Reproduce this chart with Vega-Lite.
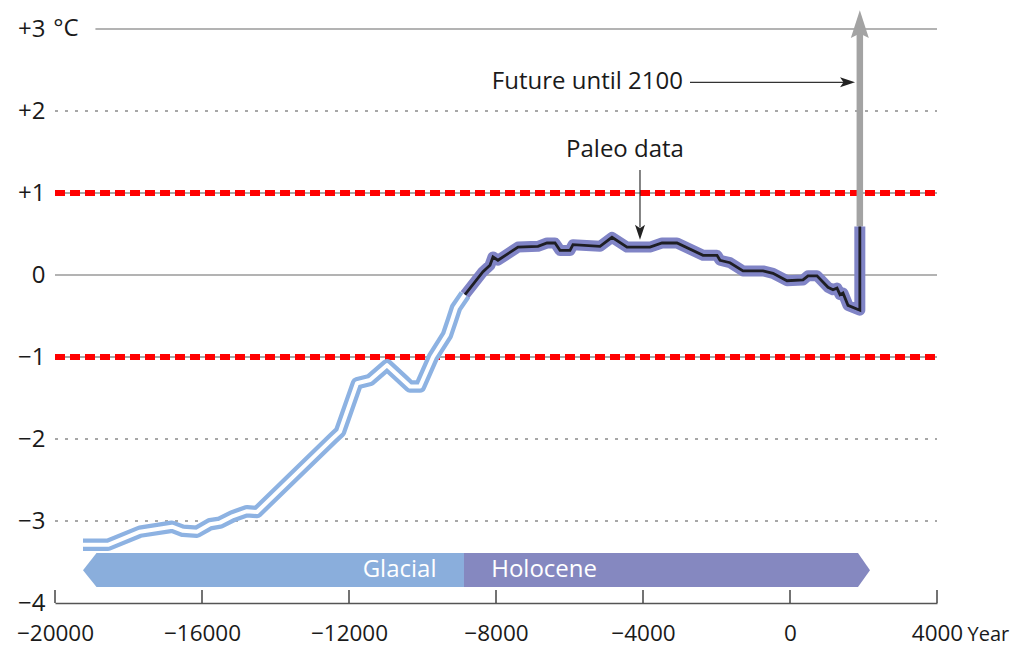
{
  "$schema": "https://vega.github.io/schema/vega-lite/v6.json",
  "width": 882,
  "height": 574,
  "autosize": {"type": "none"},
  "padding": {"left": 55, "top": 29, "right": 78, "bottom": 47},
  "background": "white",
  "config": {
    "view": {"stroke": null},
    "font": "Open Sans",
    "text": {"font": "Open Sans", "fontSize": 24, "color": "#1a1a1a"}
  },
  "datasets": {
    "glacial": [
      {"year": -19238, "value": -3.29}, {"year": -18558, "value": -3.29}, {"year": -17687, "value": -3.13},
      {"year": -16816, "value": -3.07}, {"year": -16517, "value": -3.12}, {"year": -16136, "value": -3.13},
      {"year": -15782, "value": -3.04}, {"year": -15510, "value": -3.02}, {"year": -15156, "value": -2.94},
      {"year": -14776, "value": -2.88}, {"year": -14503, "value": -2.89}, {"year": -12435, "value": -1.99},
      {"year": -12245, "value": -1.91}, {"year": -11782, "value": -1.32}, {"year": -11428, "value": -1.28},
      {"year": -10966, "value": -1.10}, {"year": -10531, "value": -1.28}, {"year": -10340, "value": -1.36},
      {"year": -10068, "value": -1.36}, {"year": -9714, "value": -1.0}, {"year": -9333, "value": -0.73},
      {"year": -9197, "value": -0.55}, {"year": -9088, "value": -0.40}, {"year": -8844, "value": -0.24}
    ],
    "holocene": [
      {"year": -8844, "value": -0.24}, {"year": -8354, "value": 0.04}, {"year": -8163, "value": 0.12},
      {"year": -8082, "value": 0.22}, {"year": -7946, "value": 0.18}, {"year": -7401, "value": 0.34},
      {"year": -6857, "value": 0.35}, {"year": -6612, "value": 0.39}, {"year": -6395, "value": 0.39},
      {"year": -6259, "value": 0.30}, {"year": -5986, "value": 0.30}, {"year": -5905, "value": 0.37},
      {"year": -5170, "value": 0.35}, {"year": -4844, "value": 0.46}, {"year": -4435, "value": 0.34},
      {"year": -3810, "value": 0.34}, {"year": -3483, "value": 0.39}, {"year": -3075, "value": 0.39},
      {"year": -2367, "value": 0.24}, {"year": -1986, "value": 0.24}, {"year": -1905, "value": 0.18},
      {"year": -1633, "value": 0.15}, {"year": -1279, "value": 0.05}, {"year": -735, "value": 0.05},
      {"year": -463, "value": 0.02}, {"year": -82, "value": -0.07}, {"year": 354, "value": -0.06},
      {"year": 490, "value": -0.01}, {"year": 735, "value": -0.01}, {"year": 1034, "value": -0.15},
      {"year": 1170, "value": -0.18}, {"year": 1279, "value": -0.16}, {"year": 1361, "value": -0.24},
      {"year": 1442, "value": -0.22}, {"year": 1578, "value": -0.37}, {"year": 1900, "value": -0.43},
      {"year": 1900, "value": 0.59}
    ],
    "band": [
      {"period": "Glacial", "year": -19238, "value": -3.6, "value2": -3.6},
      {"period": "Glacial", "year": -18870, "value": -3.39, "value2": -3.805},
      {"period": "Glacial", "year": -8871, "value": -3.39, "value2": -3.805},
      {"period": "Holocene", "year": -8871, "value": -3.39, "value2": -3.805},
      {"period": "Holocene", "year": 1850, "value": -3.39, "value2": -3.805},
      {"period": "Holocene", "year": 2177, "value": -3.6, "value2": -3.6}
    ],
    "thresholds": [
      {"year": -20000, "year2": 4000, "value": 1},
      {"year": -20000, "year2": 4000, "value": -1}
    ]
  },
  "encoding": {
    "x": {
      "field": "year", "type": "quantitative",
      "scale": {"domain": [-20000, 4000], "nice": false, "zero": false},
      "axis": {
        "title": null, "values": [-20000, -16000, -12000, -8000, -4000, 0, 4000],
        "format": "d", "ticks": false, "grid": false, "labelFlush": false, "labelOverlap": false,
        "domainColor": "#555555", "domainWidth": 1.5,
        "labelFont": "Open Sans", "labelFontSize": 22.5, "labelColor": "#1a1a1a",
        "labelPadding": 19
      }
    },
    "y": {
      "field": "value", "type": "quantitative",
      "scale": {"domain": [-4, 3], "nice": false, "zero": false},
      "axis": {
        "title": null, "values": [-4, -3, -2, -1, 0, 1, 2, 3],
        "format": "d", "ticks": false, "grid": false, "domain": false, "labelFlush": false, "labelOverlap": false,
        "labelFont": "Open Sans", "labelFontSize": 24, "labelColor": "#1a1a1a",
        "labelPadding": 10,
        "labelExpr": "datum.value > 0 ? '+' + datum.label : datum.label"
      }
    }
  },
  "layer": [
    {
      "data": {"values": [{"year": -18900, "year2": 4000, "value": 3}, {"year": -20000, "year2": 4000, "value": 0}]},
      "mark": {"type": "rule", "color": "#9a9a9a", "strokeWidth": 1.5},
      "encoding": {"x2": {"field": "year2"}}
    },
    {
      "data": {"values": [{"year": -20000, "year2": 4000, "value": 2}, {"year": -20000, "year2": 4000, "value": -2}, {"year": -20000, "year2": 4000, "value": -3}]},
      "mark": {"type": "rule", "color": "#8a8a8a", "strokeWidth": 1.3, "strokeDash": [3, 7]},
      "encoding": {"x2": {"field": "year2"}}
    },
    {
      "data": {"name": "thresholds"},
      "mark": {"type": "rule", "color": "#8a8a8a", "strokeWidth": 1.3},
      "encoding": {"x2": {"field": "year2"}}
    },
    {
      "data": {"name": "thresholds"},
      "mark": {"type": "rule", "color": "#ff0000", "strokeWidth": 6, "strokeDash": [10, 5]},
      "encoding": {"x2": {"field": "year2"}}
    },
    {
      "data": {"name": "band"},
      "mark": {"type": "area", "opacity": 1},
      "encoding": {
        "y2": {"field": "value2"},
        "color": {"field": "period", "type": "nominal", "legend": null,
          "scale": {"domain": ["Glacial", "Holocene"], "range": ["#8aaedc", "#8588c0"]}}
      }
    },
    {
      "data": {"values": [{"year": -9620, "value": -3.6, "label": "Glacial"}]},
      "mark": {"type": "text", "align": "right", "baseline": "middle", "color": "white", "fontSize": 24},
      "encoding": {"text": {"field": "label"}}
    },
    {
      "data": {"values": [{"year": -8130, "value": -3.6, "label": "Holocene"}]},
      "mark": {"type": "text", "align": "left", "baseline": "middle", "color": "white", "fontSize": 24},
      "encoding": {"text": {"field": "label"}}
    },
    {
      "data": {"values": [{"year": 1900, "value": 0.59, "value2": 2.95}]},
      "mark": {"type": "rule", "color": "#a3a3a3", "strokeWidth": 6.5},
      "encoding": {"y2": {"field": "value2"}}
    },
    {
      "data": {"values": [{"year": 1900, "value": 3.06}]},
      "mark": {"type": "point", "filled": true, "color": "#a3a3a3", "opacity": 1, "size": 324,
        "shape": "M0,-1.55L1,1.55L0,1.05L-1,1.55Z"}
    },
    {
      "data": {"name": "glacial"},
      "mark": {"type": "line", "color": "#8db2e2", "strokeWidth": 12.5, "strokeJoin": "round", "strokeCap": "butt"}
    },
    {
      "data": {"name": "glacial"},
      "mark": {"type": "line", "color": "white", "strokeWidth": 4, "strokeJoin": "round", "strokeCap": "butt"}
    },
    {
      "data": {"name": "holocene"},
      "mark": {"type": "line", "color": "#8084c6", "strokeWidth": 11, "strokeJoin": "round", "strokeCap": "butt"},
      "encoding": {"order": {"value": null}}
    },
    {
      "data": {"name": "holocene"},
      "mark": {"type": "line", "color": "#1e1e24", "strokeWidth": 2.8, "strokeJoin": "miter", "strokeCap": "butt"},
      "encoding": {"order": {"value": null}}
    },
    {
      "data": {"values": [{"year": -2912, "value": 2.35, "label": "Future until 2100"}]},
      "mark": {"type": "text", "align": "right", "baseline": "middle", "fontSize": 24},
      "encoding": {"text": {"field": "label"}}
    },
    {
      "data": {"values": [{"year": -2721, "year2": 1500, "value": 2.35}]},
      "mark": {"type": "rule", "color": "#333333", "strokeWidth": 1.2},
      "encoding": {"x2": {"field": "year2"}}
    },
    {
      "data": {"values": [{"year": 1565, "value": 2.35}]},
      "mark": {"type": "point", "filled": true, "color": "#222222", "opacity": 1, "size": 100,
        "shape": "M1.5,0L-1.5,-1L-0.8,0L-1.5,1Z"}
    },
    {
      "data": {"values": [{"year": -4490, "value": 1.52, "label": "Paleo data"}]},
      "mark": {"type": "text", "align": "center", "baseline": "middle", "fontSize": 24},
      "encoding": {"text": {"field": "label"}}
    },
    {
      "data": {"values": [{"year": -4082, "value": 1.28, "value2": 0.58}]},
      "mark": {"type": "rule", "color": "#333333", "strokeWidth": 1.2},
      "encoding": {"y2": {"field": "value2"}}
    },
    {
      "data": {"values": [{"year": -4082, "value": 0.52}]},
      "mark": {"type": "point", "filled": true, "color": "#222222", "opacity": 1, "size": 100,
        "shape": "M0,1.5L-1,-1.5L0,-0.8L1,-1.5Z"}
    },
    {
      "data": {"values": [{"year": -20050, "value": 3, "label": "°C"}]},
      "mark": {"type": "text", "align": "left", "baseline": "middle", "fontSize": 24},
      "encoding": {"text": {"field": "label"}}
    },
    {
      "data": {"values": [{"year": 4830, "value": -4.39, "label": "Year"}]},
      "mark": {"type": "text", "align": "left", "baseline": "middle", "fontSize": 20},
      "encoding": {"text": {"field": "label"}}
    },
    {
      "data": {"values": [{"year": -20000, "value": -4, "value2": -3.84}, {"year": -16000, "value": -4, "value2": -3.84}, {"year": -12000, "value": -4, "value2": -3.84}, {"year": -8000, "value": -4, "value2": -3.84}, {"year": -4000, "value": -4, "value2": -3.84}, {"year": 0, "value": -4, "value2": -3.84}, {"year": 4000, "value": -4, "value2": -3.84}]},
      "mark": {"type": "rule", "color": "#444444", "strokeWidth": 1.5},
      "encoding": {"y2": {"field": "value2"}}
    }
  ]
}
